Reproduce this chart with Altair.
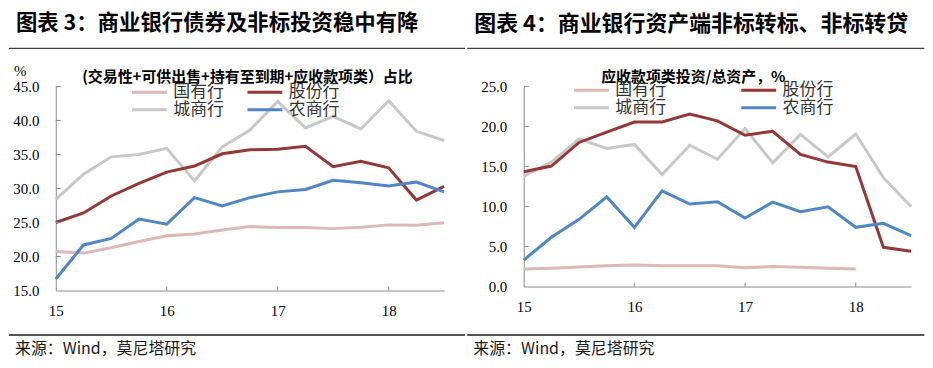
import altair as alt
import pandas as pd

# ---------------- data ----------------
quarters = [15.0, 15.25, 15.5, 15.75, 16.0, 16.25, 16.5, 16.75,
            17.0, 17.25, 17.5, 17.75, 18.0, 18.25, 18.5]
x_tick_values = [15, 16, 17, 18]
# legend is filled column by column: order gives rows 国有行/股份行 and 城商行/农商行
banks = ["国有行", "城商行", "股份行", "农商行"]
colors = ["#DDB8B8", "#C8C8C8", "#953735", "#4F86C6"]

# left chart: (交易性+可供出售+持有至到期+应收款项类) 占比, %
L_guoyou = [20.75, 20.5, 21.3, 22.2, 23.05, 23.3, 23.9, 24.4, 24.25, 24.25, 24.1, 24.3, 24.65, 24.6, 24.95]
L_gufen = [25.0, 26.4, 28.9, 30.75, 32.4, 33.3, 35.1, 35.7, 35.75, 36.2, 33.2, 34.0, 33.05, 28.3, 30.3]
L_chengshang = [28.4, 32.1, 34.65, 35.0, 35.9, 31.1, 36.1, 38.6, 42.8, 38.9, 40.6, 38.75, 42.9, 38.4, 37.05]
L_nongshang = [16.7, 21.7, 22.65, 25.5, 24.75, 28.65, 27.45, 28.65, 29.5, 29.85, 31.2, 30.85, 30.35, 30.95, 29.5]
L_yticks = [15, 20, 25, 30, 35, 40, 45]

# right chart: 应收款项类投资/总资产, %
R_guoyou = [2.2, 2.3, 2.45, 2.6, 2.7, 2.6, 2.6, 2.6, 2.35, 2.5, 2.4, 2.3, 2.2, None, None]
R_gufen = [14.35, 15.05, 18.0, 19.3, 20.55, 20.55, 21.55, 20.7, 18.9, 19.4, 16.5, 15.55, 15.0, 4.9, 4.4]
R_chengshang = [13.8, 15.55, 18.45, 17.25, 17.75, 14.0, 17.65, 15.9, 19.75, 15.45, 19.0, 16.2, 19.05, 13.6, 10.0]
R_nongshang = [3.3, 6.15, 8.4, 11.2, 7.4, 11.95, 10.3, 10.6, 8.55, 10.55, 9.35, 9.95, 7.4, 7.9, 6.35]
R_yticks = [0, 5, 10, 15, 20, 25]

title_left = "图表 3：商业银行债券及非标投资稳中有降"
title_right = "图表 4：商业银行资产端非标转标、非标转贷"
sub_left = "(交易性+可供出售+持有至到期+应收款项类）占比"
sub_right = "应收款项类投资/总资产，%"
source = "来源：Wind，莫尼塔研究"

CJK = "Noto Sans CJK SC"
SERIF = "Liberation Serif"


def long_df(series_by_bank):
    rows = []
    for b in banks:
        for q, v in zip(quarters, series_by_bank[b]):
            if v is not None:
                rows.append({"q": q, "bank": b, "v": v})
    return pd.DataFrame(rows)


def txt(s, xv, yv, size, bold=False, font=CJK, align="left", color="#000000"):
    return alt.Chart(pd.DataFrame({"t": [s]})).mark_text(
        align=align, baseline="middle", font=font, fontSize=size,
        fontWeight="bold" if bold else "normal", color=color
    ).encode(x=alt.value(xv), y=alt.value(yv), text="t:N")


def hline(x1, x2, yv, color, width):
    return alt.Chart(pd.DataFrame({"a": [0]})).mark_rule(
        color=color, strokeWidth=width
    ).encode(x=alt.value(x1), x2=alt.value(x2), y=alt.value(yv))


def panel(df, W, H, ydom, yticks, title, title_size, subtitle, sub_x, pct,
          legend_x, legend_y, col_pad, left_ext, right_ext):
    x = alt.X("q:Q", scale=alt.Scale(domain=[15, 18.5], nice=False, zero=False),
              axis=alt.Axis(values=x_tick_values, format="d", title=None, grid=False,
                            ticks=False, tickSize=0, labelFont=SERIF, labelFontSize=15,
                            labelColor="#000000", labelPadding=13, domainColor="#8C8C8C",
                            labelFlush=False))
    y = alt.Y("v:Q", scale=alt.Scale(domain=ydom, nice=False, zero=False),
              axis=alt.Axis(values=yticks, format=".1f", title=None, grid=False,
                            ticks=False, tickSize=0, labelFont=SERIF, labelFontSize=15,
                            labelColor="#000000", labelPadding=17, domainColor="#8C8C8C"))
    lines = alt.Chart(df).mark_line(strokeWidth=3).encode(
        x=x, y=y,
        color=alt.Color("bank:N", sort=banks,
                        scale=alt.Scale(domain=banks, range=colors),
                        legend=alt.Legend(orient="none", legendX=legend_x, legendY=legend_y,
                                          columns=2, symbolType="stroke", symbolSize=1225,
                                          symbolStrokeWidth=3, labelFont=CJK, labelFontSize=17,
                                          labelColor="#333333", labelOffset=5,
                                          columnPadding=col_pad, rowPadding=0, clipHeight=15,
                                          padding=0, title=None, labelLimit=0))
    )
    xt = alt.Chart(pd.DataFrame({"q": x_tick_values[1:]})).mark_rule(
        color="#8C8C8C").encode(x=x, y=alt.value(H), y2=alt.value(H - 4))
    yt = alt.Chart(pd.DataFrame({"v": yticks[1:]})).mark_rule(
        color="#8C8C8C").encode(y=y, x=alt.value(0), x2=alt.value(5))
    layers = [
        lines, xt, yt,
        hline(left_ext, 0, -77, "#FFFFFF", 1),
        hline(left_ext, right_ext, -38.3, "#404040", 1.2),
        hline(left_ext, right_ext, 249.7, "#1A1A1A", 1.4),
        txt(title, left_ext + 7, -62.5, title_size, bold=True),
        txt(subtitle, sub_x, -9.5, 15, bold=True, align="center"),
        txt(source, left_ext + 6, 264, 16, color="#1A1A1A"),
    ]
    if pct:
        layers.append(txt("%", -42, -15, 15, font=SERIF))
    return alt.layer(*layers).properties(width=W, height=H)


left = panel(long_df({"国有行": L_guoyou, "股份行": L_gufen, "城商行": L_chengshang, "农商行": L_nongshang}),
             390, 205, [15, 45], L_yticks, title_left, 21.5, sub_left, 192.5, True, 75, -2, 22, -47, 411)
right = panel(long_df({"国有行": R_guoyou, "股份行": R_gufen, "城商行": R_chengshang, "农商行": R_nongshang}),
              389, 201, [0, 25], R_yticks, title_right, 22, sub_right, 170.3, False, 49, -4, 74, -56.7, 402.3)

chart = alt.hconcat(left, right, spacing=0).resolve_scale(
    color="independent").resolve_legend(color="independent").properties(
    padding=0).configure_view(strokeWidth=0)

chart.save("out.html", embed_options={"renderer": "svg", "actions": False})
